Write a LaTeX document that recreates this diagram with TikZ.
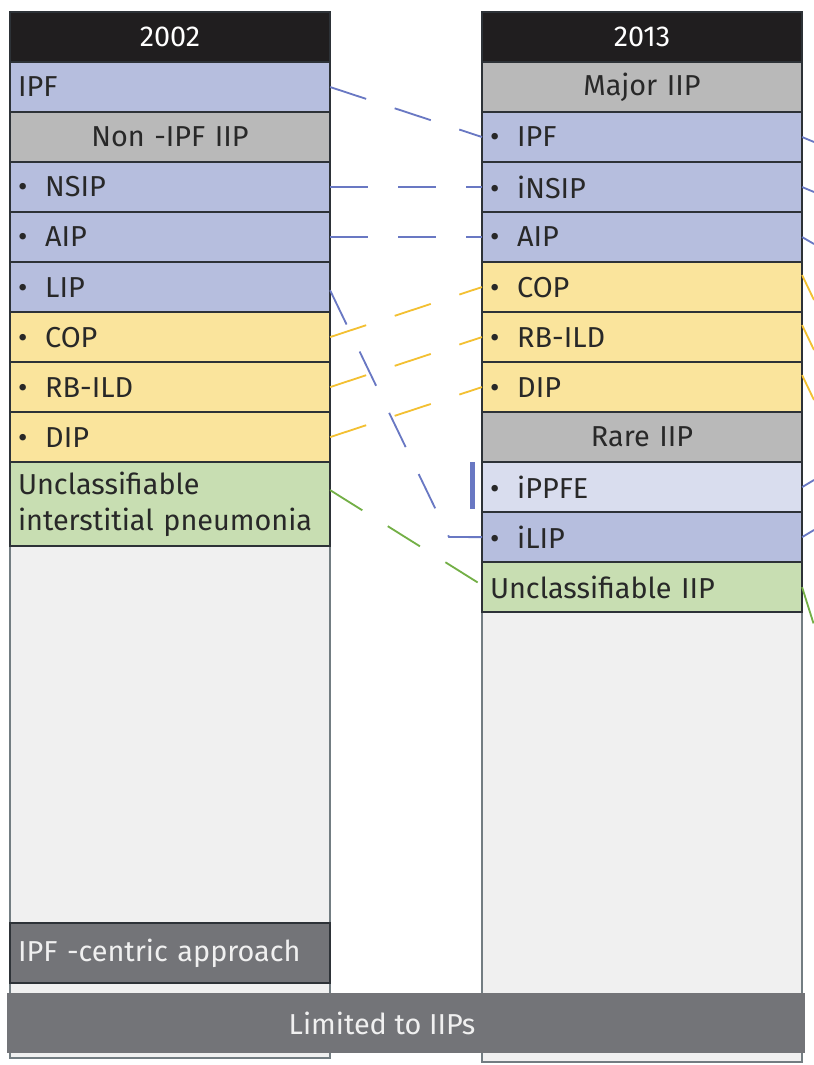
\documentclass[tikz,border=0pt]{standalone}
\usepackage{fontspec}
\setmainfont{Fira Sans}
\usetikzlibrary{positioning}
\definecolor{iipblue}{RGB}{182,190,222}
\definecolor{iiplight}{RGB}{217,221,238}
\definecolor{iipyellow}{RGB}{250,228,156}
\definecolor{iipgreen}{RGB}{200,222,178}
\definecolor{iipgray}{RGB}{185,185,185}
\definecolor{iipdark}{RGB}{32,30,31}
\definecolor{iipslate}{RGB}{115,116,120}
\definecolor{iippale}{RGB}{240,240,240}
\definecolor{cellline}{RGB}{45,50,55}
\definecolor{colline}{RGB}{115,125,130}
\definecolor{inktext}{RGB}{40,40,40}
\definecolor{lnblue}{RGB}{105,120,195}
\definecolor{lnyellow}{RGB}{243,192,50}
\definecolor{lngreen}{RGB}{115,175,70}
\newcommand\cellfont{\fontsize{20.5}{26}\selectfont}
\newcommand\itm{\makebox[0.68cm][l]{\textbullet}}
\tikzset{%
  column/.style  = {draw=colline, fill=iippale, line width=1pt},%
  cell/.style    = {shape=rectangle, draw=cellline, line width=1.1pt,%
                    minimum height=1.25cm, text width=7.6cm,%
                    inner xsep=0.2cm, inner ysep=0pt, outer sep=0pt,%
                    align=left, anchor=north west, text=inktext,%
                    font=\cellfont},%
  head/.style    = {cell, fill=iipdark, text=white, align=center},%
  group/.style   = {cell, fill=iipgray, align=center},%
  item/.style    = {cell, fill=iipblue},%
  rare/.style    = {cell, fill=iiplight},%
  smoke/.style   = {cell, fill=iipyellow},%
  uncl/.style    = {cell, fill=iipgreen},%
  slate/.style   = {cell, fill=iipslate, text=iippale, minimum height=1.5cm},%
  bar/.style     = {shape=rectangle, fill=iipslate, minimum width=19.95cm,%
                    minimum height=1.5cm, outer sep=0pt, anchor=north west},%
  joint/.style   = {draw=#1, line width=1.3pt, dash pattern=on 0.95cm off 0.75cm}%
}
\begin{document}
\begin{tikzpicture}[x=0.025cm, y=-0.025cm, node distance=0pt]
  \useasboundingbox (0,0) rectangle (814,1065);
  \draw[column] (10,12) rectangle (330,1058);
  \draw[column] (482,12) rectangle (802,1062);
  % 2002
  \node[head] (a0) at (10,12) {2002};
  \node[item, below=of a0] (a1) {IPF};
  \node[group, below=of a1] (a2) {Non -IPF IIP};
  \node[item, below=of a2] (a3) {\itm NSIP};
  \node[item, below=of a3] (a4) {\itm AIP};
  \node[item, below=of a4] (a5) {\itm LIP};
  \node[smoke, below=of a5] (a6) {\itm COP};
  \node[smoke, below=of a6] (a7) {\itm RB-ILD};
  \node[smoke, below=of a7] (a8) {\itm DIP};
  \node[uncl, below=of a8, minimum height=2.1cm] (a9) {Unclassifiable\\interstitial pneumonia};
  \node[slate] (a10) at (10,923) {IPF -centric approach};
  % 2013
  \node[head] (b0) at (482,12) {2013};
  \node[group, below=of b0] (b1) {Major IIP};
  \node[item, below=of b1] (b2) {\itm IPF};
  \node[item, below=of b2] (b3) {\itm iNSIP};
  \node[item, below=of b3] (b4) {\itm AIP};
  \node[smoke, below=of b4] (b5) {\itm COP};
  \node[smoke, below=of b5] (b6) {\itm RB-ILD};
  \node[smoke, below=of b6] (b7) {\itm DIP};
  \node[group, below=of b7] (b8) {Rare IIP};
  \node[rare, below=of b8] (b9) {\itm iPPFE};
  \node[item, below=of b9] (b10) {\itm iLIP};
  \node[uncl, below=of b10] (b11) {Unclassifiable IIP};
  % bottom band
  \node[bar] (lim) at (7,993) {};
  \node[font=\cellfont, text=iippale] (limtext) at (382,1023) {Limited to IIPs};
  % links between the two classifications
  \coordinate (bend) at (449,537);
  \draw[joint=lnblue] (a1.east) -- (b2.west);
  \draw[joint=lnblue] (a3.east) -- (b3.west);
  \draw[joint=lnblue] (a4.east) -- (b4.west);
  \draw[joint=lnblue] ([yshift=-0.08cm]a5.east) -- (bend) -- (b10.west);
  \draw[joint=lnyellow] (a6.east) -- (b5.west);
  \draw[joint=lnyellow] (a7.east) -- (b6.west);
  \draw[joint=lnyellow] (a8.east) -- (b7.west);
  \draw[joint=lngreen] ([yshift=0.35cm]a9.east) -- ([yshift=0.05cm]b11.west);
  \draw[lnblue, line width=3pt] ([xshift=-0.24cm]b9.north west) -- ([xshift=-0.24cm, yshift=0.08cm]b9.south west);
  % ends running off to the right
  \coordinate (r2) at (814,142);
  \coordinate (r3) at (814,192);
  \coordinate (r4) at (814,244);
  \coordinate (r5) at (814,300);
  \coordinate (r6) at (814,350);
  \coordinate (r7) at (814,400);
  \coordinate (r9) at (814,480);
  \coordinate (r10) at (814,530);
  \coordinate (r11) at (814,625);
  \draw[joint=lnblue] (b2.east) -- (r2);
  \draw[joint=lnblue] (b3.east) -- (r3);
  \draw[joint=lnblue] (b4.east) -- (r4);
  \draw[joint=lnyellow] ([yshift=0.3cm]b5.east) -- (r5);
  \draw[joint=lnyellow] ([yshift=0.3cm]b6.east) -- (r6);
  \draw[joint=lnyellow] ([yshift=0.3cm]b7.east) -- (r7);
  \draw[joint=lnblue] (b9.east) -- (r9);
  \draw[joint=lnblue] (b10.east) -- (r10);
  \draw[joint=lngreen] (b11.east) -- (r11);
\end{tikzpicture}
\end{document}
